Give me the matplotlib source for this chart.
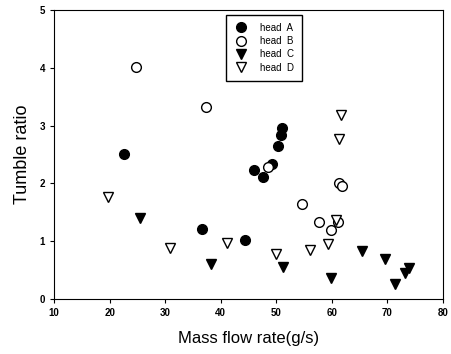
import matplotlib
matplotlib.use("Agg")
import matplotlib.pyplot as plt

plt.rcParams['font.family'] = ['Liberation Sans', 'DejaVu Sans']

# head A (filled circles)
a_x = [22.5, 36.7, 44.3, 46.0, 47.6, 49.2, 50.4, 50.8, 51.0]
a_y = [2.51, 1.22, 1.02, 2.23, 2.12, 2.33, 2.65, 2.84, 2.95]
# head B (open circles)
b_x = [24.8, 37.3, 48.5, 54.7, 57.7, 59.9, 61.1, 61.3, 61.75]
b_y = [4.02, 3.32, 2.29, 1.64, 1.34, 1.19, 1.33, 2.00, 1.96]
# head C (filled triangles)
c_x = [25.5, 38.3, 51.2, 59.9, 65.5, 69.6, 71.4, 73.2, 73.9]
c_y = [1.40, 0.60, 0.55, 0.36, 0.84, 0.70, 0.26, 0.46, 0.54]
# head D (open triangles)
d_x = [19.7, 30.8, 41.2, 50.0, 56.1, 59.4, 60.8, 61.3, 61.7]
d_y = [1.77, 0.88, 0.97, 0.78, 0.85, 0.96, 1.37, 2.77, 3.18]

fig = plt.figure(figsize=(4.51, 3.54), dpi=100)
ax = fig.add_axes([0.12, 0.155, 0.862, 0.817])

ms = 7
ax.plot(a_x, a_y, 'o', color='black', ms=ms, label='head  A')
ax.plot(b_x, b_y, 'o', mfc='white', mec='black', mew=1, ms=ms, label='head  B')
ax.plot(c_x, c_y, 'v', color='black', ms=ms, label='head  C')
ax.plot(d_x, d_y, 'v', mfc='white', mec='black', mew=1, ms=ms, label='head  D')

ax.set_xlim(10, 80)
ax.set_ylim(0, 5)
ax.set_xticks(range(10, 81, 10))
ax.set_yticks(range(0, 6))
ax.tick_params(direction='out', length=3, labelsize=7, top=False, right=False)
for lab in ax.get_xticklabels() + ax.get_yticklabels():
    lab.set_fontweight('bold')

ax.set_xlabel('Mass flow rate(g/s)', fontsize=12, labelpad=9)
ax.set_ylabel('Tumble ratio', fontsize=13, labelpad=6)

leg = ax.legend(loc='upper left', bbox_to_anchor=(0.43, 1.0), fontsize=7,
                fancybox=False, edgecolor='black', framealpha=1,
                handlelength=1.5, handletextpad=1.2, labelspacing=0.35,
                borderpad=0.8)
leg.get_frame().set_linewidth(1)

fig.savefig('out.png', dpi=100)
